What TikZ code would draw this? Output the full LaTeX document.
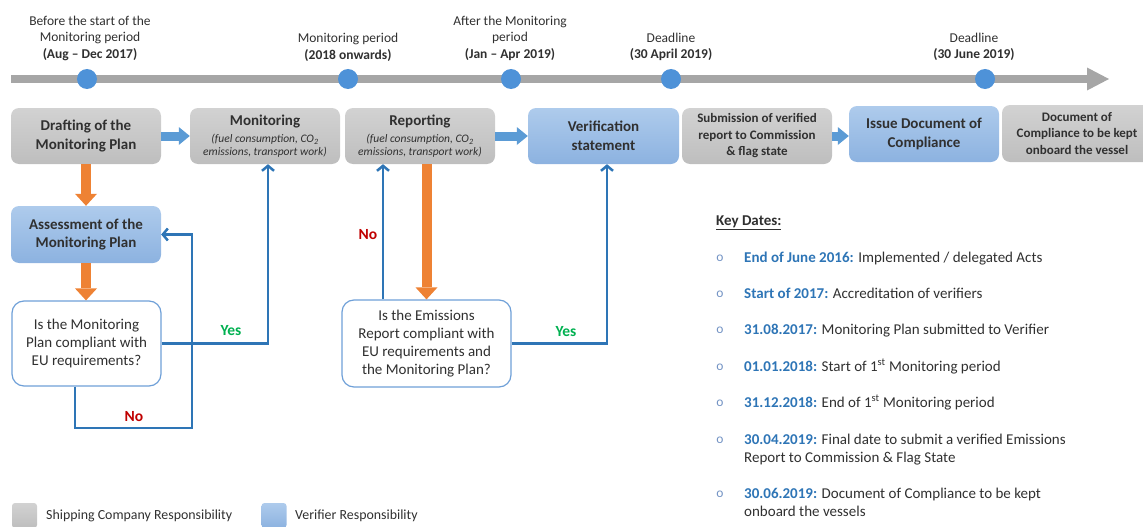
\documentclass[tikz,border=0pt]{standalone}
\usepackage{fontspec}
\setmainfont{Carlito}
\usetikzlibrary{arrows.meta,calc}
\definecolor{gtop}{HTML}{D2D2D2}
\definecolor{gbot}{HTML}{BEBEBE}
\definecolor{btop}{HTML}{AECBEC}
\definecolor{bbot}{HTML}{8CB2E0}
\definecolor{tline}{HTML}{A6A6A6}
\definecolor{dotc}{HTML}{4E92D8}
\definecolor{barrow}{HTML}{5B9BD5}
\definecolor{flowc}{HTML}{2E75B6}
\definecolor{orng}{HTML}{EE8234}
\definecolor{noc}{HTML}{C00000}
\definecolor{yesc}{HTML}{00B050}
\definecolor{datec}{HTML}{2E75B6}
\definecolor{txt}{HTML}{303030}
\definecolor{bullc}{HTML}{7393C4}
\definecolor{decb}{HTML}{6FA0D8}
\newcommand\kdate[1]{\textcolor{datec}{\textbf{#1}}}
\begin{document}
\begin{tikzpicture}[x=1pt,y=-1pt,
  lbl/.style={align=center, inner sep=0pt, text=txt, font=\fontsize{13.5}{16.5}\selectfont},
  boxbase/.style={rounded corners=8pt, draw=none, minimum width=150pt, minimum height=56pt, align=center, inner sep=2pt, text=txt},
  gbox/.style={boxbase, top color=gtop, bottom color=gbot},
  bbox/.style={boxbase, top color=btop, bottom color=bbot},
  ttl/.style={font=\fontsize{15}{18.5}\selectfont\bfseries},
  sub/.style={font=\fontsize{11.5}{13}\selectfont},
  sbold/.style={font=\fontsize{13}{16.5}\selectfont\bfseries},
  dec/.style={draw=decb, line width=1.2pt, fill=white, rounded corners=12pt, align=center, text=txt, font=\fontsize{15}{18}\selectfont},
  dotn/.style={circle, fill=dotc, minimum size=20pt, inner sep=0pt},
  blk/.style={line width=9pt, barrow, -{Triangle[width=18pt,length=11pt,line width=0pt]}},
  orarrow/.style={line width=10pt, orng, -{Triangle[width=22pt,length=12pt,line width=0pt]}},
  flow/.style={line width=2.5pt, flowc, -{Straight Barb[length=5pt,width=12pt]}},
  yesl/.style={text=yesc, font=\fontsize{15.5}{18}\selectfont\bfseries, inner sep=0pt},
  nol/.style={text=noc, font=\fontsize{15.5}{18}\selectfont\bfseries, inner sep=0pt},
  kd/.style={text=txt, inner sep=0pt, font=\fontsize{15}{18}\selectfont},
  bul/.style={text=bullc, inner sep=0pt, font=\fontsize{13.5}{16}\selectfont},
  sq/.style={minimum size=25pt, inner sep=0pt, rounded corners=3pt},
  lg/.style={text=txt, inner sep=0pt, font=\fontsize{13.9}{16}\selectfont},
]
\useasboundingbox (0,0) rectangle (1143,527);

% timeline
\coordinate (tl0) at (11,79);
\coordinate (tl1) at (1109,79);
\draw[line width=8pt, tline, -{Triangle[width=23pt,length=22pt,line width=0pt]}] (tl0) -- (tl1);
\node[dotn] (d1) at (87,79) {};
\node[dotn] (d2) at (348,79) {};
\node[dotn] (d3) at (511,79) {};
\node[dotn] (d4) at (671,79) {};
\node[dotn] (d5) at (985,79) {};

\node[lbl] (l1) at (90,38) {Before the start of the\\Monitoring period\\\textbf{(Aug -- Dec 2017)}};
\node[lbl] (l2) at (348,47.5) {Monitoring period\\\textbf{(2018 onwards)}};
\node[lbl] (l3) at (510,38) {After the Monitoring\\period\\\textbf{(Jan -- Apr 2019)}};
\node[lbl] (l4) at (671,47) {Deadline\\\textbf{(30 April 2019)}};
\node[lbl] (l5) at (974,47) {Deadline\\\textbf{(30 June 2019)}};

% process boxes
\node[gbox, ttl] (draft) at (86,136) {Drafting of the\\Monitoring Plan};
\node[gbox, sub] (monitor) at (265,136) {{\fontsize{15}{13}\selectfont\bfseries Monitoring}\\[4pt]{\itshape (fuel consumption, CO\textsubscript{2}}\\{\itshape emissions, transport work)}};
\node[gbox, sub] (report) at (420,136) {{\fontsize{15}{13}\selectfont\bfseries Reporting}\\[4pt]{\itshape (fuel consumption, CO\textsubscript{2}}\\{\itshape emissions, transport work)}};
\node[bbox, ttl, minimum width=151pt] (verif) at (603.5,136) {Verification\\statement};
\node[gbox, sbold] (submit) at (757,136) {Submission of verified\\report to Commission\\\& flag state};
\node[bbox, ttl] (issue) at (924,134) {Issue Document of\\Compliance};
\node[gbox, sbold, minimum height=57pt] (docu) at (1077,133.5) {Document of\\Compliance to be kept\\onboard the vessel};

\node[bbox, ttl, minimum height=57pt] (assess) at (86,234.5) {Assessment of the\\Monitoring Plan};
\node[dec, minimum width=149pt, minimum height=85pt] (dec1) at (86.5,343.5) {Is the Monitoring\\Plan compliant with\\EU requirements?};
\node[dec, minimum width=169pt, minimum height=87pt] (dec2) at (426.5,343.5) {Is the Emissions\\Report compliant with\\EU requirements and\\the Monitoring Plan?};

% block arrows
\draw[blk] (draft.east) -- (monitor.west);
\draw[blk] (report.east) -- (verif.west);
\draw[blk] (submit.east) -- (submit.east -| issue.west);

\draw[orarrow] (draft.south) -- (assess.north);
\draw[orarrow] (assess.south) -- (assess.south |- dec1.north);
\draw[orarrow] (report.south -| dec2.north) -- (dec2.north);

% decision flows
\coordinate (nocorner) at (192,428);
\draw[flow] (dec1.east) -| ([xshift=3pt]monitor.south);
\draw[flow] ([xshift=-11.5pt]dec1.south) |- (nocorner) |- (assess.east);
\draw[flow] ([xshift=-43.5pt]dec2.north) -- ([xshift=-43.5pt]dec2.north |- report.south);
\draw[flow] (dec2.east) -| ([xshift=3.5pt]verif.south);

\node[yesl] (y1) at (231,331) {Yes};
\node[nol] (n1) at (134,417) {No};
\node[nol] (n2) at (368,235) {No};
\node[yesl] (y2) at (566,332) {Yes};

% key dates
\node[kd, anchor=base west] (kdt) at (716,225) {\underline{\textbf{Key Dates:}}};
\node[bul] (b1) at (720,258) {o};
\node[bul] (b2) at (720,294) {o};
\node[bul] (b3) at (720,330) {o};
\node[bul] (b4) at (720,367) {o};
\node[bul] (b5) at (720,403) {o};
\node[bul] (b6) at (720,440) {o};
\node[bul] (b7) at (720,494) {o};
\node[kd, anchor=base west] (k1) at (744,262) {\kdate{End of June 2016:} Implemented / delegated Acts};
\node[kd, anchor=base west] (k2) at (744,298) {\kdate{Start of 2017:} Accreditation of verifiers};
\node[kd, anchor=base west] (k3) at (744,334) {\kdate{31.08.2017:} Monitoring Plan submitted to Verifier};
\node[kd, anchor=base west] (k4) at (744,371) {\kdate{01.01.2018:} Start of 1\textsuperscript{st} Monitoring period};
\node[kd, anchor=base west] (k5) at (744,407) {\kdate{31.12.2018:} End of 1\textsuperscript{st} Monitoring period};
\node[kd, anchor=base west] (k6) at (744,444) {\begin{tabular}[t]{@{}l@{}}\kdate{30.04.2019:} Final date to submit a verified Emissions\\Report to Commission \& Flag State\end{tabular}};
\node[kd, anchor=base west] (k7) at (744,498) {\begin{tabular}[t]{@{}l@{}}\kdate{30.06.2019:} Document of Compliance to be kept\\onboard the vessels\end{tabular}};

% legend
\node[sq, top color=gtop, bottom color=gbot] (lg1) at (24.5,515.5) {};
\node[sq, top color=btop, bottom color=bbot] (lg2) at (274,515.5) {};
\node[lg, anchor=west] (lt1) at (46,516) {Shipping Company Responsibility};
\node[lg, anchor=west] (lt2) at (295,516) {Verifier Responsibility};
\end{tikzpicture}
\end{document}
